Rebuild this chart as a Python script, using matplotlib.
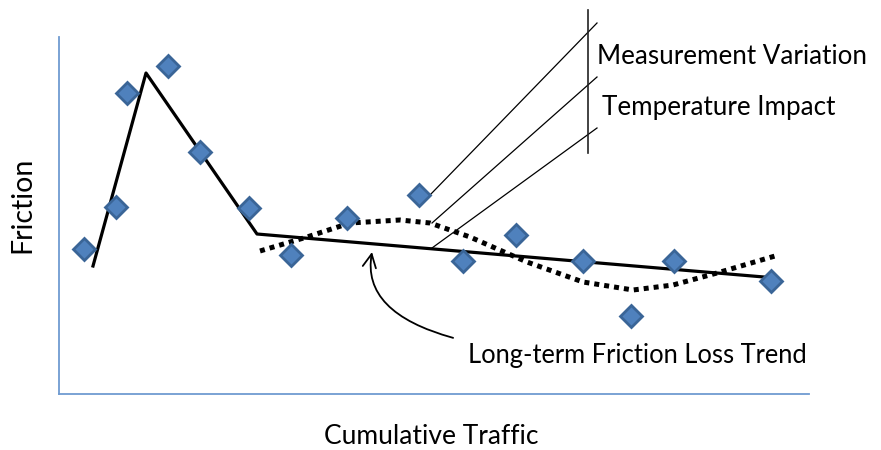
import matplotlib.pyplot as plt

plt.rcParams['font.family'] = ['Lato', 'DejaVu Sans']

# measured friction points (x = cumulative traffic, y = friction, arbitrary units)
traffic = [25, 57, 68, 109, 141, 190, 232, 288, 360, 404, 457, 524, 572, 615, 712]
friction = [145, 187, 301, 328, 242, 186, 139, 176, 199, 133, 159, 133, 78, 133, 113]

# piecewise long-term trend
trend_x = [34, 87, 198, 705]
trend_y = [128, 321, 160, 117]

# seasonal / temperature wave
wave_x = [201, 248, 291, 341, 371, 411, 468, 524, 574, 614, 658, 716]
wave_y = [143, 157, 171, 174, 171, 157, 132, 112, 104, 109, 121, 138]

# callout leader lines
leader_start = [(371, 199), (373, 171), (373, 146)]
leader_end = [(538, 371), (538, 317), (538, 266)]
bar_x = 529
bar_y = (241, 384)

W, H = 881, 450
fig = plt.figure(figsize=(W / 100, H / 100), dpi=100)
ax = fig.add_axes([59 / W, (H - 394) / H, (809 - 59) / W, (394 - 37) / H])
ax.set_xlim(0, 750)
ax.set_ylim(0, 357)
ax.set_xticks([])
ax.set_yticks([])
for s in ['top', 'right']:
    ax.spines[s].set_visible(False)
for s in ['left', 'bottom']:
    ax.spines[s].set_color('#6F9BD1')
    ax.spines[s].set_linewidth(1.3)

ax.plot(wave_x, wave_y, color='black', lw=3.6, linestyle=(0, (1, 1)),
        dash_capstyle='butt', zorder=2)
ax.plot(trend_x, trend_y, color='black', lw=2.3, zorder=3)
ax.plot(traffic, friction, linestyle='none', marker='D', markersize=11.5,
        markerfacecolor='#4F81BD', markeredgecolor='#3A6597', markeredgewidth=2,
        zorder=4)

for (x0, y0), (x1, y1) in zip(leader_start, leader_end):
    ax.plot([x0, x1], [y0, y1], color='black', lw=0.9, clip_on=False)
ax.plot([bar_x, bar_x], bar_y, color='#222222', lw=1.2, clip_on=False)

ax.text(538, 337, 'Measurement Variation', fontsize=18.7, va='center', ha='left')
ax.text(543, 286, 'Temperature Impact', fontsize=18.7, va='center', ha='left')

ax.annotate('Long-term Friction Loss Trend', xy=(313, 142), xytext=(409, 38),
            fontsize=18.4, va='center', ha='left',
            arrowprops=dict(arrowstyle='->', color='black', lw=1.3,
                            connectionstyle='angle3,angleA=0,angleB=80',
                            shrinkA=9, shrinkB=0, mutation_scale=24))

fig.text(22 / W, 1 - 205 / H, 'Friction', fontsize=20.5, rotation=90,
         ha='center', va='center')
fig.text(431 / W, 1 - 437 / H, 'Cumulative Traffic', fontsize=19,
         ha='center', va='center')

fig.savefig('out.png', dpi=100)
